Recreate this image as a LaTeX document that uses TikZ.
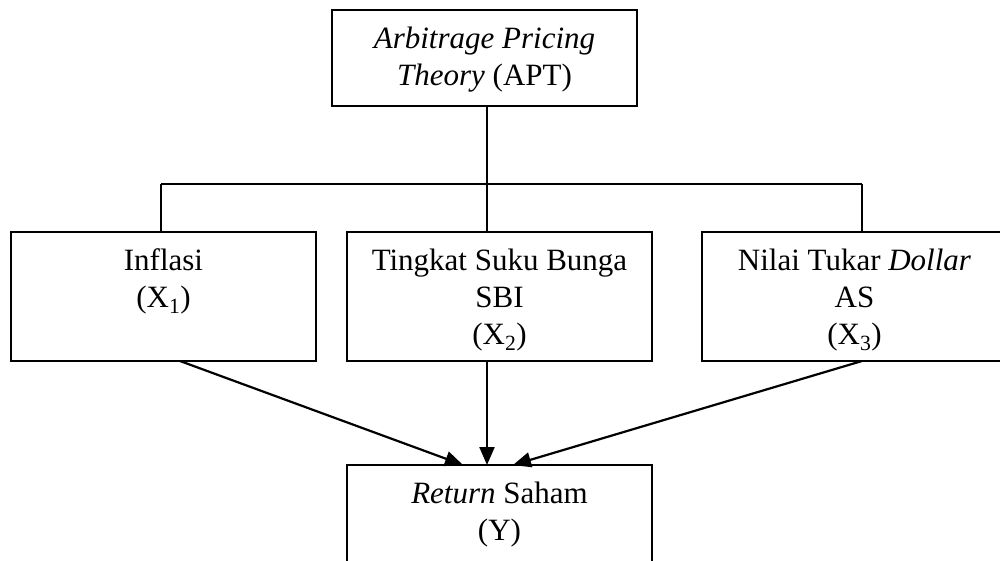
\documentclass[tikz,border=0pt]{standalone}
\usepackage{fontspec}
\setmainfont{Liberation Serif}
\usetikzlibrary{arrows.meta}
\newcommand{\bxt}[3]{\begin{minipage}[c][#2][t]{#1}\centering\fontsize{31}{37}\selectfont\rule{0pt}{38.5pt}#3\end{minipage}}
\begin{document}
\begin{tikzpicture}[x=1pt,y=-1pt,
  boxnode/.style={draw,line width=1.7pt,inner sep=0pt,outer sep=0pt},
  treeline/.style={line width=1.1pt},
  arr/.style={line width=2.2pt,-{Triangle[length=18pt,width=15pt]}}]
\useasboundingbox (0,0) rectangle (1000,560);
\node[boxnode] (apt) at (484.5,58) {\bxt{305pt}{96pt}{\textit{Arbitrage Pricing}\\\textit{Theory} (APT)}};
\node[boxnode] (x1) at (163.5,296.5) {\bxt{305pt}{129pt}{Inflasi\\(X\textsubscript{1})}};
\node[boxnode] (x2) at (499.5,296.5) {\bxt{305pt}{129pt}{Tingkat Suku Bunga\\SBI\\(X\textsubscript{2})}};
\node[boxnode] (x3) at (854.5,296.5) {\bxt{305pt}{129pt}{Nilai Tukar \textit{Dollar}\\AS\\(X\textsubscript{3})}};
\node[boxnode] (ret) at (499.5,520) {\bxt{305pt}{110pt}{\textit{Return} Saham\\(Y)}};
% tree connector
\coordinate (jl) at (161,184);
\coordinate (jm) at (487,184);
\coordinate (jr) at (862,184);
\draw[treeline] (jl) -- (jr);
\draw[treeline] (apt.south -| jm) -- (x2.north -| jm);
\draw[treeline] (jl) -- (x1.north -| jl);
\draw[treeline] (jr) -- (x3.north -| jr);
% arrows
\coordinate (s1) at (180,0);
\coordinate (s3) at (862,0);
\coordinate (t1) at (463,0);
\coordinate (t3) at (513,0);
\draw[arr] (x1.south -| s1) -- (ret.north -| t1);
\draw[arr] (x2.south -| jm) -- (ret.north -| jm);
\draw[arr] (x3.south -| s3) -- (ret.north -| t3);
\end{tikzpicture}
\end{document}
